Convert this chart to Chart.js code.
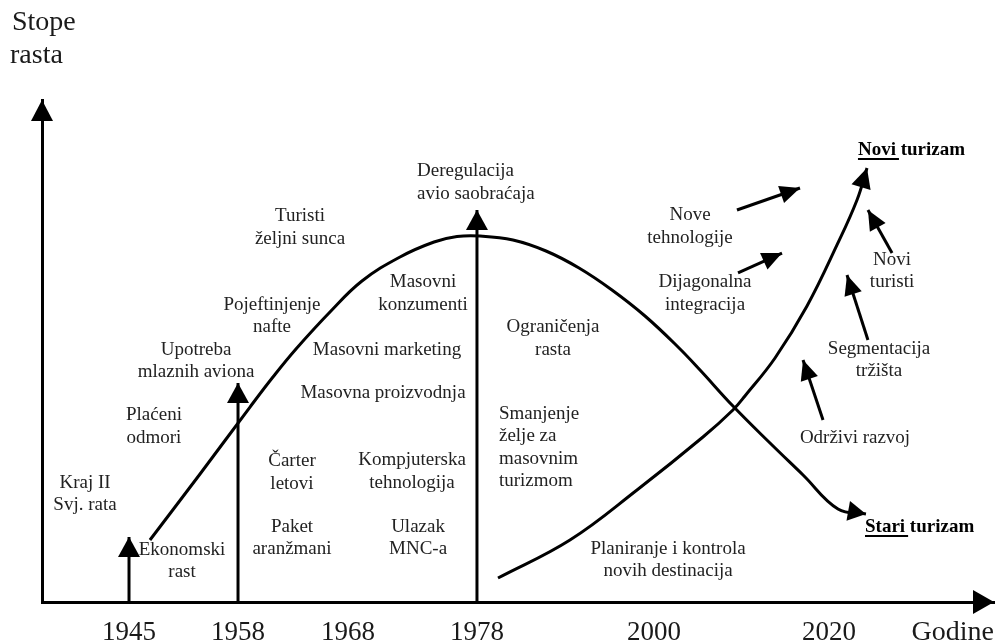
<!DOCTYPE html>
<html>
<head>
<meta charset="utf-8">
<title>Stope rasta - stari i novi turizam</title>
<script src="https://cdn.jsdelivr.net/npm/chart.js@4.4.1/dist/chart.umd.min.js"></script>
<style>
  html, body { margin: 0; padding: 0; background: #fff; }
  #wrap { width: 997px; height: 644px; position: relative; }
</style>
</head>
<body>
<div id="wrap"><canvas id="chart"></canvas></div>
<script>
// x = relative position on the time axis (0-100), y = growth rate (0-100)
const yearLabels = ['1945', '1958', '1968', '1978', '2000', '2020'];
const yearPos = [9.14, 20.59, 32.14, 45.69, 64.29, 82.67];

// "Stari turizam" curve (rise, peak ~1978, decline)
const oldX = [11.34, 16.6, 21.85, 24.26, 26.68, 30.25, 33.61, 37.61, 41.18, 43.59, 46.01, 49.47, 52.94, 56.41, 59.87, 63.34, 66.81, 69.12, 72.58, 76.47, 79.94, 83.61, 86.55];
const oldY = [12.35, 25.5, 38.84, 44.82, 50.4, 57.77, 63.94, 68.73, 71.71, 72.81, 72.91, 72.11, 69.92, 66.53, 62.15, 56.97, 50.8, 46.22, 39.04, 31.67, 25.3, 18.53, 17.53];

// "Novi turizam" curve
const newX = [47.9, 55.46, 62.5, 69.43, 72.58, 73.84, 77.0, 80.36, 83.51, 85.61, 86.66];
const newY = [4.78, 12.35, 22.31, 32.87, 38.25, 41.04, 48.61, 58.96, 71.12, 80.08, 86.45];

// vertical event arrows (1945, 1958, 1978)
const eventPos = [9.14, 20.59, 45.69];
const eventTop = [12.95, 43.63, 78.09];

// small arrows: drivers of new tourism
const driverFromX = [73.0, 73.11, 89.29, 86.76, 82.04];
const driverFromY = [78.09, 65.54, 69.52, 52.19, 36.25];
const driverToX = [79.62, 77.73, 86.76, 84.56, 79.94];
const driverToY = [82.47, 69.52, 78.09, 65.14, 48.21];

// text notes, placed in chart units
const notes = [
  { x: 4.52,  y: 21.51, lines: ['Kraj II', 'Svj. rata'] },
  { x: 11.76, y: 34.96, lines: ['Plaćeni', 'odmori'] },
  { x: 14.71, y: 8.17,  lines: ['Ekonomski', 'rast'] },
  { x: 16.18, y: 48.01, lines: ['Upotreba', 'mlaznih aviona'] },
  { x: 24.16, y: 56.97, lines: ['Pojeftinjenje', 'nafte'] },
  { x: 27.1,  y: 74.6,  lines: ['Turisti', 'željni sunca'] },
  { x: 40.02, y: 61.45, lines: ['Masovni', 'konzumenti'] },
  { x: 36.24, y: 50.2,  lines: ['Masovni marketing'] },
  { x: 35.82, y: 41.63, lines: ['Masovna proizvodnja'] },
  { x: 26.26, y: 25.8,  lines: ['Čarter', 'letovi'] },
  { x: 38.87, y: 26.0,  lines: ['Kompjuterska', 'tehnologija'] },
  { x: 26.26, y: 12.75, lines: ['Paket', 'aranžmani'] },
  { x: 39.5,  y: 12.75, lines: ['Ulazak', 'MNC-a'] },
  { x: 39.39, y: 83.57, lines: ['Deregulacija', 'avio saobraćaja'], align: 'left' },
  { x: 53.68, y: 52.49, lines: ['Ograničenja', 'rasta'] },
  { x: 48.0,  y: 30.78, lines: ['Smanjenje', 'želje za', 'masovnim', 'turizmom'], align: 'left' },
  { x: 65.76, y: 8.37,  lines: ['Planiranje i kontrola', 'novih destinacija'] },
  { x: 68.07, y: 74.8,  lines: ['Nove', 'tehnologije'] },
  { x: 69.64, y: 61.45, lines: ['Dijagonalna', 'integracija'] },
  { x: 89.29, y: 65.94, lines: ['Novi', 'turisti'] },
  { x: 87.92, y: 48.21, lines: ['Segmentacija', 'tržišta'] },
  { x: 85.4,  y: 32.67, lines: ['Održivi razvoj'] },
];
const heads = [
  { x: 85.71, y: 90.04, first: 'Novi', rest: ' turizam' },
  { x: 86.45, y: 14.94, first: 'Stari', rest: ' turizam' },
];

const SERIF = '"Liberation Serif", "DejaVu Serif", serif';
const pts = (xs, ys) => xs.map((x, i) => ({ x, y: ys[i] }));

const line = (data, extra) => Object.assign({
  data, showLine: true, borderColor: '#000', backgroundColor: '#000',
  borderWidth: 3, pointRadius: 0, pointHoverRadius: 0, fill: false, tension: 0
}, extra);

const datasets = [
  line(pts(oldX, oldY), { label: 'Stari turizam', tension: 0.4, arrow: { len: 18, half: 10 } }),
  line(pts(newX, newY), { label: 'Novi turizam', tension: 0.4, arrow: { len: 20, half: 10 } }),
];
eventPos.forEach((x, i) => {
  datasets.push(line([{ x, y: 0 }, { x, y: eventTop[i] }], { label: 'event ' + yearLabels[i], arrow: { len: 20, half: 11 } }));
});
driverFromX.forEach((x, i) => {
  datasets.push(line([{ x, y: driverFromY[i] }, { x: driverToX[i], y: driverToY[i] }], { label: 'driver ' + i, arrow: { len: 20, half: 9 } }));
});

function arrowHead(ctx, x, y, ang, len, half) {
  ctx.save();
  ctx.translate(x, y);
  ctx.rotate(ang);
  ctx.beginPath();
  ctx.moveTo(0, 0);
  ctx.lineTo(-len, -half);
  ctx.lineTo(-len, half);
  ctx.closePath();
  ctx.fillStyle = '#000';
  ctx.fill();
  ctx.restore();
}

const diagramPlugin = {
  id: 'diagram',
  afterDatasetsDraw(chart) {
    const ctx = chart.ctx;
    const area = chart.chartArea;
    const xs = chart.scales.x, ys = chart.scales.y;

    // arrowheads on lines
    chart.data.datasets.forEach((ds, i) => {
      if (!ds.arrow) return;
      const p = chart.getDatasetMeta(i).data;
      const a = p[p.length - 2], b = p[p.length - 1];
      arrowHead(ctx, b.x, b.y, Math.atan2(b.y - a.y, b.x - a.x), ds.arrow.len, ds.arrow.half);
    });

    // axis arrows
    arrowHead(ctx, area.left, area.top, -Math.PI / 2, 21, 11);
    arrowHead(ctx, area.right, area.bottom, 0, 21, 12);

    ctx.save();
    ctx.fillStyle = '#222';
    ctx.textBaseline = 'middle';
    ctx.font = '19px ' + SERIF;
    const lh = 22.5;
    notes.forEach(n => {
      const px = xs.getPixelForValue(n.x);
      const py = ys.getPixelForValue(n.y);
      ctx.textAlign = n.align || 'center';
      const y0 = py - (n.lines.length - 1) * lh / 2;
      n.lines.forEach((t, k) => ctx.fillText(t, px, y0 + k * lh));
    });

    // bold curve names, first word underlined
    ctx.fillStyle = '#000';
    ctx.strokeStyle = '#000';
    ctx.font = 'bold 19px ' + SERIF;
    ctx.textAlign = 'left';
    ctx.lineWidth = 2;
    heads.forEach(h => {
      const px = xs.getPixelForValue(h.x);
      const py = ys.getPixelForValue(h.y);
      const w = ctx.measureText(h.first).width;
      ctx.fillText(h.first + h.rest, px, py);
      ctx.beginPath();
      ctx.moveTo(px, py + 9);
      ctx.lineTo(px + w + 3, py + 9);
      ctx.stroke();
    });

    // axis names
    ctx.fillStyle = '#1a1a1a';
    ctx.font = '28px ' + SERIF;
    ctx.textAlign = 'left';
    ctx.fillText('Stope', area.left - 30, area.top - 77);
    ctx.fillText('rasta', area.left - 32, area.top - 44);
    ctx.textAlign = 'right';
    ctx.fillText('Godine', area.right, area.bottom + 31);
    ctx.restore();
  }
};

new Chart(document.getElementById('chart'), {
  type: 'scatter',
  data: { datasets },
  options: {
    responsive: true,
    maintainAspectRatio: false,
    animation: false,
    devicePixelRatio: 1,
    layout: { padding: { top: 100, right: 3, left: 0, bottom: 0 } },
    plugins: { legend: { display: false }, tooltip: { enabled: false }, title: { display: false } },
    scales: {
      x: {
        type: 'linear', min: 0, max: 100,
        grid: { display: false, drawTicks: false },
        border: { display: true, color: '#000', width: 3 },
        afterBuildTicks: s => { s.ticks = yearPos.map(v => ({ value: v })); },
        afterFit: s => { s.height = 42; },
        ticks: {
          autoSkip: false, maxRotation: 0, padding: 15, color: '#1a1a1a',
          font: { family: SERIF, size: 27 },
          callback: (v, i) => yearLabels[i]
        }
      },
      y: {
        type: 'linear', min: 0, max: 100,
        grid: { display: false, drawTicks: false },
        border: { display: true, color: '#000', width: 3 },
        ticks: { display: false },
        afterFit: s => { s.width = 42; }
      }
    }
  },
  plugins: [diagramPlugin]
});
</script>
</body>
</html>
